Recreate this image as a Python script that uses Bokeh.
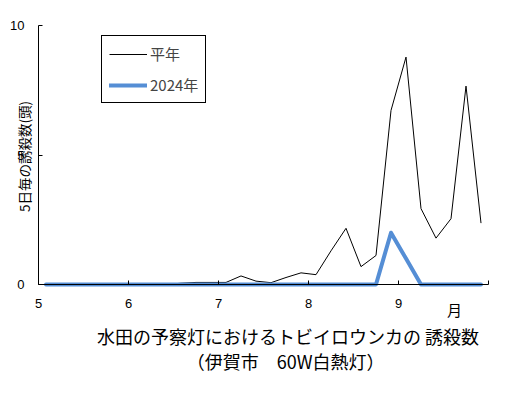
import math
from bokeh.plotting import figure
from bokeh.models import Range1d, FixedTicker, Label, Legend, LegendItem, LinearAxis
from bokeh.embed import file_html
from bokeh.resources import INLINE

# ---- data -------------------------------------------------------------
months = [5, 6, 7, 8, 9]                     # month of each 6-pentad block
pentads_per_month = 6
categories = [f"{m}月{i}半旬" for m in months for i in range(1, pentads_per_month + 1)]

normal_year = [0, 0, 0, 0, 0, 0, 0, 0, 0, 0.05,
               0.08, 0.08, 0.08, 0.33, 0.13, 0.07, 0.27, 0.45, 0.38, 1.3,
               2.17, 0.69, 1.12, 6.72, 8.78, 2.93, 1.79, 2.54, 7.66, 2.37]
year_2024 = [0, 0, 0, 0, 0, 0, 0, 0, 0, 0,
             0, 0, 0, 0, 0, 0, 0, 0, 0, 0,
             0, 0, 0, 2.0, 1.0, 0, 0, 0, 0, 0]

month_tick_labels = ["5", "6", "7", "8", "9", ""]
y_ticks = [0, 5, 10]
y_max = 10
series_names = ["平年", "2024年"]
x_title_lines = ["水田の予察灯におけるトビイロウンカの 誘殺数", "（伊賀市　60W白熱灯）"]
y_title = "5日毎の誘殺数(頭)"
month_unit = "月"

# ---- layout (pixels) ----------------------------------------------------
W, H = 521, 395
left_px, right_px = 38, 488        # plot area in the picture
top_px, bottom_px = 25, 284

n = len(categories)
xs = [i + 0.5 for i in range(n)]   # category centres
px_x = (right_px - left_px) / n
px_y = (bottom_px - top_px) / y_max
x_range = Range1d(-left_px / px_x, (W - left_px) / px_x)
y_range = Range1d(-(H - bottom_px) / px_y, bottom_px / px_y)

p = figure(width=W, height=H, output_backend="svg", toolbar_location=None,
           x_range=x_range, y_range=y_range, x_axis_type=None, y_axis_type=None,
           min_border=0)
p.outline_line_color = None
p.grid.visible = False
p.background_fill_color = "white"
p.border_fill_color = "white"

NUMF = "Liberation Sans"
FONT = "Noto Sans CJK JP"

# axes placed at fixed data locations inside the frame
tick_pos = [i * pentads_per_month for i in range(len(month_tick_labels))]
xaxis = LinearAxis(fixed_location=0, bounds=(0, n),
                   ticker=FixedTicker(ticks=tick_pos),
                   major_label_overrides={t: lab for t, lab in zip(tick_pos, month_tick_labels)},
                   major_tick_in=4, major_tick_out=0, minor_tick_line_color=None,
                   axis_line_color="black", major_tick_line_color="black",
                   major_label_standoff=14, major_label_text_font=NUMF,
                   major_label_text_font_size="13px", major_label_text_color="black")
yaxis = LinearAxis(fixed_location=0, bounds=(0, y_max),
                   ticker=FixedTicker(ticks=y_ticks),
                   major_tick_in=4, major_tick_out=0, minor_tick_line_color=None,
                   axis_line_color="black", major_tick_line_color="black",
                   major_label_standoff=14, major_label_text_font=NUMF,
                   major_label_text_font_size="13px", major_label_text_color="black")
p.add_layout(xaxis, "below")
p.add_layout(yaxis, "left")

r1 = p.line(xs, normal_year, line_color="#000000", line_width=1)
r2 = p.line(xs, year_2024, line_color="#558ed5", line_width=4, line_cap="round",
            line_join="round")

# texts
p.add_layout(Label(x=27.73, y=-0.97, text=month_unit, text_font=FONT,
                   text_font_size="15px", text_align="center",
                   text_baseline="middle", text_color="black"))
p.add_layout(Label(x=16.63, y=-1.97, text=x_title_lines[0], text_font=FONT,
                   text_font_size="18px", text_align="center",
                   text_baseline="middle", text_color="black"))
p.add_layout(Label(x=16.47, y=-2.97, text=x_title_lines[1], text_font=FONT,
                   text_font_size="18px", text_align="center",
                   text_baseline="middle", text_color="black"))
p.add_layout(Label(x=-1.0, y=4.94, text=y_title, text_font=FONT,
                   text_font_size="13.5px", text_align="center",
                   text_baseline="middle", angle=math.pi / 2, text_color="black"))

legend = Legend(items=[LegendItem(label=series_names[0], renderers=[r1]),
                       LegendItem(label=series_names[1], renderers=[r2])],
                location=(101, H - 103), padding=7, spacing=10, margin=0,
                label_height=18, glyph_height=18, glyph_width=38,
                label_standoff=3, label_text_font=FONT,
                label_text_font_size="15px", border_line_color="black",
                border_line_width=1, border_line_alpha=1, background_fill_alpha=1,
                background_fill_color="white")
p.add_layout(legend)

open("out.html", "w").write(file_html(p, INLINE))
